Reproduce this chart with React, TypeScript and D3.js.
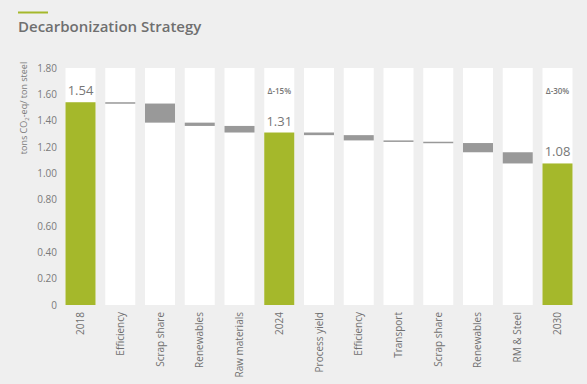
import React, { useEffect, useRef } from 'react';
import * as d3 from 'd3';

// categories along the x axis
const categories = [
  '2018', 'Efficiency', 'Scrap share', 'Renewables', 'Raw materials', '2024',
  'Process yield', 'Efficiency ', 'Transport', 'Scrap share ', 'Renewables ', 'RM & Steel', '2030',
];
// start / end value of each bar (totals start at 0)
const startValues = [0, 1.54, 1.53, 1.385, 1.36, 0, 1.31, 1.29, 1.25, 1.24, 1.23, 1.16, 0];
const endValues = [1.54, 1.53, 1.385, 1.36, 1.31, 1.31, 1.29, 1.25, 1.24, 1.23, 1.16, 1.075, 1.075];
const totalLabels = ['1.54', '', '', '', '', '1.31', '', '', '', '', '', '', '1.08'];
const deltaLabels = ['', '', '', '', '', 'Δ-15%', '', '', '', '', '', '', 'Δ-30%'];
const yTicks = [0, 0.2, 0.4, 0.6, 0.8, 1.0, 1.2, 1.4, 1.6, 1.8];

const W = 587;
const H = 384;
const FONT = '"Open Sans", "Noto Sans", sans-serif';

const App = () => {
  const svgRef = useRef<SVGSVGElement>(null);

  useEffect(() => {
    const svg = d3.select(svgRef.current);
    svg.selectAll('*').remove();

    const margin = { top: 68, left: 66, right: 15, bottom: 79 };

    svg.append('rect').attr('width', W).attr('height', H).attr('fill', '#efefef');

    // header line and title
    svg.append('line')
      .attr('x1', 18).attr('x2', 48).attr('y1', 12.5).attr('y2', 12.5)
      .attr('stroke', '#a5b82b').attr('stroke-width', 2);
    svg.append('text')
      .attr('x', 18).attr('y', 32)
      .attr('font-family', FONT).attr('font-size', 15).attr('font-weight', 600)
      .attr('fill', '#6f6f6f')
      .text('Decarbonization Strategy');

    const x = d3.scaleBand()
      .domain(categories)
      .range([margin.left - 0.5, W - margin.right + 0.5])
      .paddingInner(0.245)
      .paddingOuter(0);
    const y = d3.scaleLinear().domain([0, 1.8]).range([H - margin.bottom, margin.top]);

    const g = svg.append('g');

    // white column backgrounds
    g.selectAll('rect.col')
      .data(categories)
      .enter()
      .append('rect')
      .attr('class', 'col')
      .attr('x', d => x(d)!)
      .attr('width', x.bandwidth())
      .attr('y', y(1.8))
      .attr('height', y(0) - y(1.8))
      .attr('fill', '#ffffff');

    // bars
    g.selectAll('rect.bar')
      .data(categories)
      .enter()
      .append('rect')
      .attr('class', 'bar')
      .attr('x', d => x(d)!)
      .attr('width', x.bandwidth())
      .attr('y', (d, i) => y(Math.max(startValues[i], endValues[i])))
      .attr('height', (d, i) => Math.max(1.5, Math.abs(y(startValues[i]) - y(endValues[i]))))
      .attr('fill', (d, i) => (startValues[i] === 0 ? '#a5b82b' : '#999999'));

    // value labels for totals
    g.selectAll('text.val')
      .data(categories)
      .enter()
      .append('text')
      .attr('class', 'val')
      .attr('x', d => x(d)! + x.bandwidth() / 2)
      .attr('y', (d, i) => y(endValues[i]) - 7)
      .attr('text-anchor', 'middle')
      .attr('font-family', FONT).attr('font-size', 13)
      .attr('fill', '#777777')
      .text((d, i) => totalLabels[i]);

    // delta labels
    g.selectAll('text.delta')
      .data(categories)
      .enter()
      .append('text')
      .attr('class', 'delta')
      .attr('x', d => x(d)! + x.bandwidth() / 2)
      .attr('y', 94)
      .attr('text-anchor', 'middle')
      .attr('font-family', FONT).attr('font-size', 8).attr('font-weight', 600)
      .attr('fill', '#777777')
      .text((d, i) => deltaLabels[i]);

    // y axis tick labels
    g.selectAll('text.ytick')
      .data(yTicks)
      .enter()
      .append('text')
      .attr('class', 'ytick')
      .attr('x', 57)
      .attr('y', d => y(d))
      .attr('dy', '0.35em')
      .attr('text-anchor', 'end')
      .attr('font-family', FONT).attr('font-size', 10)
      .attr('fill', '#7a7a7a')
      .text(d => (d === 0 ? '0' : d3.format('.2f')(d)));

    // y axis title
    const yt = g.append('text')
      .attr('transform', `translate(27, ${margin.top + 40}) rotate(-90)`)
      .attr('text-anchor', 'middle')
      .attr('font-family', FONT).attr('font-size', 9)
      .attr('fill', '#7a7a7a');
    yt.append('tspan').text('tons CO');
    yt.append('tspan').attr('font-size', 6).attr('dy', 2).text('2');
    yt.append('tspan').attr('dy', -2).text('-eq/ ton steel');

    // x labels, rotated
    g.selectAll('text.xlab')
      .data(categories)
      .enter()
      .append('text')
      .attr('class', 'xlab')
      .attr('transform', d => `translate(${x(d)! + x.bandwidth() / 2}, ${H - margin.bottom + 7}) rotate(-90)`)
      .attr('dy', '0.35em')
      .attr('text-anchor', 'end')
      .attr('font-family', FONT).attr('font-size', 10)
      .attr('fill', '#6f6f6f')
      .text(d => d.trim());
  }, []);

  return <svg ref={svgRef} width={W} height={H} style={{ display: 'block', position: 'absolute', left: 0, top: 0 }} />;
};

export default App;
